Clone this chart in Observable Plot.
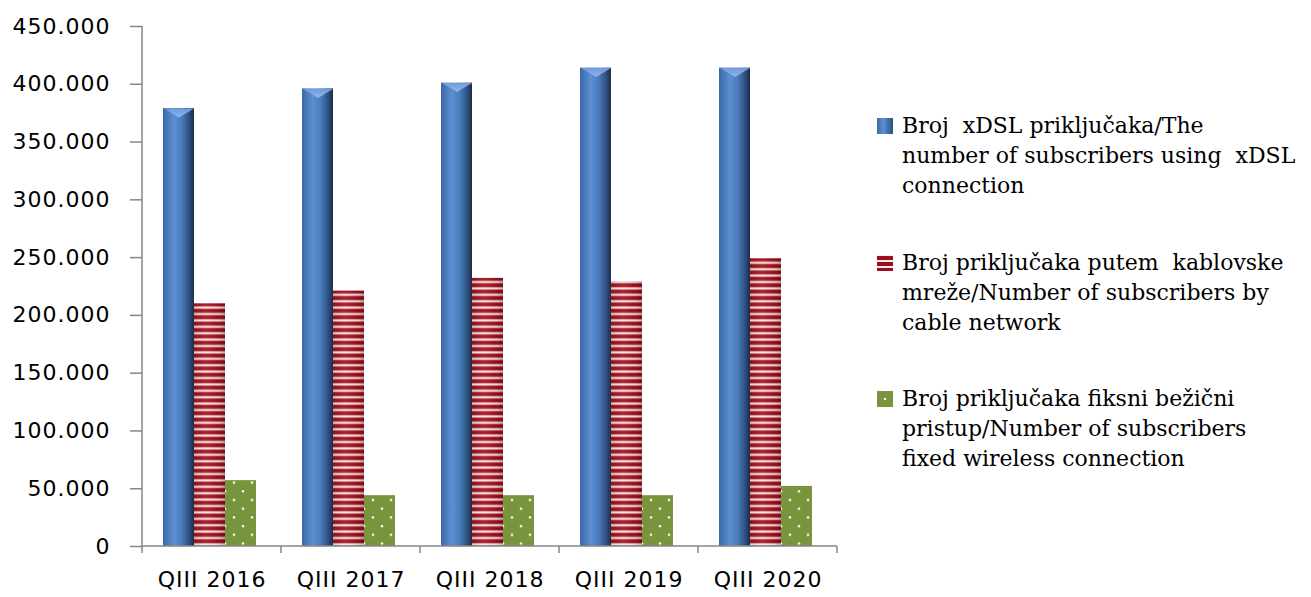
<!DOCTYPE html>
<html>
<head>
<meta charset="utf-8">
<script src="https://cdn.jsdelivr.net/npm/d3@7"></script>
<script src="https://cdn.jsdelivr.net/npm/@observablehq/plot@0.6"></script>
<style>
  html, body { margin: 0; padding: 0; background: #fff; }
  #wrap { position: relative; width: 1311px; height: 597px; overflow: hidden; }
  #chart svg text { letter-spacing: 1px; }
  #legend { position: absolute; left: 877px; top: 0; font-family: "DejaVu Serif", serif; font-size: 22px; line-height: 30px; color: #000; }
  .item { position: absolute; left: 0; white-space: nowrap; }
  .sw { position: absolute; left: 0; width: 16px; height: 16px; top: 7px; }
  .txt { position: absolute; left: 25px; top: 0; }
</style>
</head>
<body>
<div id="wrap">
  <div id="chart"></div>
  <div id="legend"></div>
</div>
<script>
// ---- data ----
const categories = ["QIII 2016", "QIII 2017", "QIII 2018", "QIII 2019", "QIII 2020"];
const seriesNames = ["xDSL", "cable", "wireless"];
const xdslValues = [379000, 396000, 401000, 414000, 414000];
const cableValues = [210000, 221000, 232000, 229000, 249000];
const wirelessValues = [57000, 44000, 44000, 44000, 52000];
const yTicks = [0, 50000, 100000, 150000, 200000, 250000, 300000, 350000, 400000, 450000];
const legendLines = [
  ["Broj  xDSL priklju\u010daka/The", "number of subscribers using  xDSL", "connection"],
  ["Broj priklju\u010daka putem  kablovske", "mre\u017ee/Number of subscribers by", "cable network"],
  ["Broj priklju\u010daka fiksni be\u017ei\u010dni", "pristup/Number of subscribers", "fixed wireless connection"]
];

const valuesBySeries = {xDSL: xdslValues, cable: cableValues, wireless: wirelessValues};
const rows = seriesNames.flatMap(s => categories.map((c, i) => ({cat: c, series: s, value: valuesBySeries[s][i]})));
const only = s => rows.filter(d => d.series === s);

const fmt = d => d === 0 ? "0" : d3.format(",")(d).replace(/,/g, ".");

const chevron = {
  draw(ctx, size) {
    const hw = Math.sqrt(size / Math.PI);
    ctx.moveTo(-hw, 0);
    ctx.lineTo(hw, 0);
    ctx.lineTo(0, hw * 0.6);
    ctx.closePath();
  }
};

const chart = Plot.plot({
  width: 860,
  height: 597,
  marginLeft: 142,
  marginRight: 23,
  marginTop: 26,
  marginBottom: 51,
  style: {fontFamily: "'DejaVu Sans', sans-serif", fontSize: "22px", color: "#000", background: "transparent"},
  fx: {domain: categories, padding: 0, axis: "bottom", label: null, tickSize: 0, tickPadding: 25},
  x: {domain: seriesNames, paddingInner: 0, paddingOuter: 0.7, align: 0.45, axis: null},
  y: {domain: [0, 450000], ticks: yTicks, tickFormat: fmt, tickSize: 12, tickPadding: 20, label: null},
  marks: [
    Plot.barY(only("xDSL"), {fx: "cat", x: "series", y: "value", fill: "url(#gBlue)"}),
    Plot.dot(only("xDSL"), {fx: "cat", x: "series", y: "value", symbol: chevron, r: 15, fill: "url(#gChev)", stroke: "none"}),
    Plot.barY(only("cable"), {fx: "cat", x: "series", y: "value", fill: "url(#pRed)"}),
    Plot.barY(only("cable"), {fx: "cat", x: "series", y: "value", fill: "url(#gShade)"}),
    Plot.barY(only("wireless"), {fx: "cat", x: "series", y: "value", fill: "url(#pGreen)"})
  ]
});

document.getElementById("chart").appendChild(chart);
const svg = d3.select(chart.tagName.toLowerCase() === "svg" ? chart : chart.querySelector("svg"));

svg.insert("defs", ":first-child").html(`
  <linearGradient id="gBlue" x1="0" x2="1" y1="0" y2="0">
    <stop offset="0" stop-color="#3b69a6"/>
    <stop offset="0.35" stop-color="#5b8fd2"/>
    <stop offset="0.6" stop-color="#4a7cbd"/>
    <stop offset="0.85" stop-color="#2d4f7d"/>
    <stop offset="1" stop-color="#1b2d47"/>
  </linearGradient>
  <linearGradient id="gChev" x1="0" x2="0" y1="0" y2="1">
    <stop offset="0" stop-color="#6f9bd8"/>
    <stop offset="1" stop-color="#8fb6e8"/>
  </linearGradient>
  <linearGradient id="gShade" x1="0" x2="1" y1="0" y2="0">
    <stop offset="0" stop-color="#000" stop-opacity="0.12"/>
    <stop offset="0.4" stop-color="#fff" stop-opacity="0.08"/>
    <stop offset="0.8" stop-color="#000" stop-opacity="0.08"/>
    <stop offset="1" stop-color="#000" stop-opacity="0.25"/>
  </linearGradient>
  <pattern id="pRed" patternUnits="userSpaceOnUse" width="8" height="6.4">
    <rect width="8" height="6.4" fill="#fbeeee"/>
    <rect y="1.3" width="8" height="4.6" fill="#d0545c"/>
    <rect y="2.0" width="8" height="3.2" fill="#a00d1a"/>
  </pattern>
  <pattern id="pGreen" patternUnits="userSpaceOnUse" width="18" height="17.4">
    <rect width="18" height="17.4" fill="#78953d"/>
    <circle cx="9" cy="4" r="1.2" fill="#fff"/>
    <circle cx="0" cy="12.7" r="1.2" fill="#fff"/>
    <circle cx="18" cy="12.7" r="1.2" fill="#fff"/>
  </pattern>
`);

// axis lines and category boundary ticks from Plot's own scales
const fxS = chart.scale("fx");
const yS = chart.scale("y");
const y0 = yS.apply(0), yTop = yS.apply(450000);
const x0 = fxS.range[0], x1 = fxS.range[1];
const g = svg.append("g").attr("stroke", "#868686").attr("stroke-width", 1.5).attr("fill", "none");
g.append("line").attr("x1", x0).attr("x2", x0).attr("y1", yTop).attr("y2", y0);
g.append("line").attr("x1", x0).attr("x2", x1).attr("y1", y0).attr("y2", y0);
const bounds = categories.map(c => fxS.apply(c)).concat([fxS.apply(categories[categories.length - 1]) + fxS.bandwidth]);
bounds.forEach(b => g.append("line").attr("x1", b).attr("x2", b).attr("y1", y0).attr("y2", y0 + 7));
svg.selectAll("[aria-label='y-axis tick'] path, [aria-label='y-axis tick'] line").attr("stroke", "#868686").attr("stroke-width", 1.5);

// legend
const legendFills = [
  "linear-gradient(90deg,#3b69a6,#5b8fd2 40%,#2d4f7d)",
  "repeating-linear-gradient(180deg,#fbeeee 0 1.5px,#a00d1a 1.5px 5px,#fbeeee 5px 6px)",
  "radial-gradient(circle,#fff 0 1.2px,#78953d 1.6px)"
];
const itemTops = [111, 248, 384];
const legend = d3.select("#legend");
legendLines.forEach((lines, i) => {
  const item = legend.append("div").attr("class", "item").style("top", itemTops[i] + "px");
  item.append("div").attr("class", "sw").style("background", legendFills[i]);
  item.append("div").attr("class", "txt").style("white-space", "pre").html(lines.join("<br>"));
});
</script>
</body>
</html>
